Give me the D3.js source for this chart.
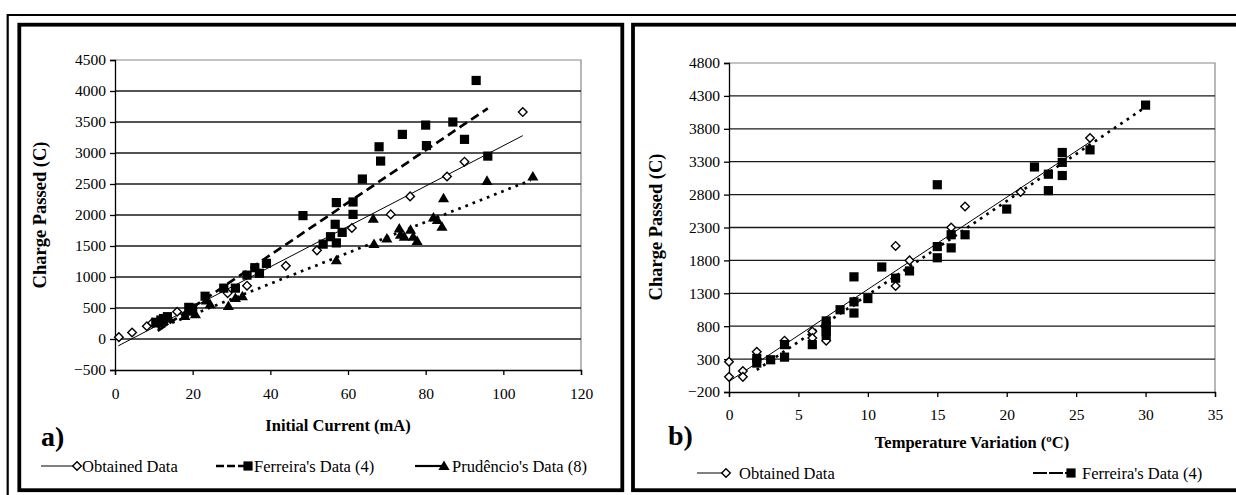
<!DOCTYPE html>
<html><head><meta charset="utf-8">
<script src="https://cdn.jsdelivr.net/npm/d3@7"></script>
<style>
body{margin:0;background:#fff}
svg text{font-family:"Liberation Serif","Times New Roman",serif;fill:#000}
</style>
</head><body><svg id="c" width="1236" height="495"></svg>
<script>
// ---------- Panel a) data ----------
const aXTicks = [0, 20, 40, 60, 80, 100, 120];
const aYTicks = [-500, 0, 500, 1000, 1500, 2000, 2500, 3000, 3500, 4000, 4500];
const aObtained = [[1,30],[4.4,105],[8.2,205],[9.6,260],[16,440],[29,740],[34,860],[44,1180],[52,1430],[61,1790],[71,2010],[76,2300],[85.5,2620],[90,2860],[105,3660]];
const aFerreira = [[10.5,270],[11.8,306],[12.5,330],[13.5,360],[19,510],[20,500],[19.5,450],[23.2,690],[28,820],[31,820],[34,1030],[36,1150],[37.2,1060],[39,1220],[48.4,1990],[53.6,1530],[55.5,1650],[56.7,1850],[57,2200],[57,1550],[58.5,1720],[61.3,2210],[61.3,2010],[63.7,2580],[68,3100],[68.4,2870],[74,3300],[80,3450],[80.2,3120],[87,3500],[90,3220],[93,4170],[96,2950]];
const aPrudencio = [[11.5,250],[12.5,290],[14,330],[18,370],[20.7,400],[23.5,620],[24.5,560],[29.2,530],[31,660],[32.8,690],[57,1270],[66.5,1940],[66.7,1530],[70,1620],[73.2,1780],[73.5,1680],[74.5,1650],[76.1,1760],[76.8,1650],[77.8,1580],[82,1960],[83,1920],[84.2,1810],[84.6,2270],[95.8,2550],[107.6,2620]];
const aTrendObtained = [[0.85,-110],[105,3280]];
const aTrendFerreira = [[11,130],[96,3720]];
const aTrendPrudencio = [[11,170],[107,2560]];
const aLabels = {x:"Initial Current (mA)", y:"Charge Passed (C)", tag:"a)"};
const aLegend = ["Obtained Data","Ferreira's Data (4)","Prudêncio's Data (8)"];

// ---------- Panel b) data ----------
const bXTicks = [0, 5, 10, 15, 20, 25, 30, 35];
const bYTicks = [-200, 300, 800, 1300, 1800, 2300, 2800, 3300, 3800, 4300, 4800];
const bObtained = [[0,260],[0,30],[1,120],[1,30],[2,410],[2,300],[4,580],[6,720],[6,620],[7,580],[9,1170],[12,2020],[12,1410],[13,1800],[16,2300],[17,2620],[21,2840],[26,3660]];
const bFerreira = [[2,310],[2,240],[3,290],[4,520],[4,330],[6,520],[7,880],[7,800],[7,720],[7,660],[8,1050],[9,1550],[9,1170],[9,1000],[10,1220],[11,1700],[12,1530],[13,1640],[15,2950],[15,2010],[15,1840],[16,1990],[16,2190],[17,2190],[20,2580],[22,3220],[23,3110],[23,2860],[24,3440],[24,3290],[24,3090],[26,3480],[30,4160]];
const bTrendObtained = [[0,-40],[26,3600]];
const bTrendFerreira = [[2,135],[30,4130]];
const bLabels = {x:"Temperature Variation (ºC)", y:"Charge Passed (C)", tag:"b)"};
const bLegend = ["Obtained Data","Ferreira's Data (4)"];

const svg = d3.select("#c");
svg.append("rect").attr("width",1236).attr("height",495).attr("fill","#fff");

// frame
svg.append("line").attr("x1",7).attr("x2",1236).attr("y1",15).attr("y2",15).attr("stroke","#000").attr("stroke-width",2.2);
svg.append("line").attr("x1",7.7).attr("x2",7.7).attr("y1",14).attr("y2",495).attr("stroke","#000").attr("stroke-width",2.2);
svg.append("rect").attr("x",19.3).attr("y",24.7).attr("width",603).attr("height",465.5).attr("fill","none").attr("stroke","#000").attr("stroke-width",3.8);
svg.append("rect").attr("x",633).attr("y",24.7).attr("width",640).attr("height",465.5).attr("fill","none").attr("stroke","#000").attr("stroke-width",3.8);

const diamond = r => `M0,${-r}L${r},0L0,${r}L${-r},0Z`;
const square = r => `M${-r},${-r}H${r}V${r}H${-r}Z`;
const tri = r => `M0,${-r*1.05}L${r*1.05},${r*0.75}L${-r*1.05},${r*0.75}Z`;

function marker(g, type, x, y){
  if(type==="d") g.append("path").attr("d",diamond(4.3)).attr("transform",`translate(${x},${y})`).attr("fill","#fff").attr("stroke","#000").attr("stroke-width",1.4);
  else if(type==="s") g.append("path").attr("d",square(4.6)).attr("transform",`translate(${x},${y})`).attr("fill","#000");
  else g.append("path").attr("d",tri(5.3)).attr("transform",`translate(${x},${y})`).attr("fill","#000");
}

function panel(cfg){
  const x = d3.scaleLinear().domain(d3.extent(cfg.xTicks)).range([cfg.x0, cfg.x1]);
  const y = d3.scaleLinear().domain(d3.extent(cfg.yTicks)).range([cfg.y1, cfg.y0]);
  const g = svg.append("g");
  g.append("path").attr("d",`M${cfg.x0},${cfg.y0}H${cfg.x1}V${cfg.y1}`).attr("fill","none").attr("stroke","#888").attr("stroke-width",1.2);
  g.selectAll(".gl").data(cfg.yTicks.slice(1,-1)).join("line")
    .attr("x1",cfg.x0).attr("x2",cfg.x1).attr("y1",d=>y(d)).attr("y2",d=>y(d))
    .attr("stroke","#1a1a1a").attr("stroke-width",1.3);
  const ya = g.append("g").attr("transform",`translate(${cfg.x0},0)`)
    .call(d3.axisLeft(y).tickValues(cfg.yTicks).tickSize(5).tickPadding(4).tickFormat(d3.format("d")));
  const xa = g.append("g").attr("transform",`translate(0,${cfg.y1})`)
    .call(d3.axisBottom(x).tickValues(cfg.xTicks).tickSize(5).tickPadding(cfg.xPad).tickFormat(d3.format("d")));
  [ya,xa].forEach(a=>{
    a.attr("font-family","Liberation Serif").attr("font-size",15.5);
    a.select(".domain").attr("stroke","#000").attr("stroke-width",1.3);
    a.selectAll(".tick line").attr("stroke","#000").attr("stroke-width",1.3);
    a.selectAll("text").attr("font-size",15.5).attr("font-family","Liberation Serif");
  });
  const line = d3.line().x(d=>x(d[0])).y(d=>y(d[1]));
  cfg.trends.forEach(t=>{
    g.append("path").attr("d",line(t.pts)).attr("fill","none").attr("stroke","#000")
      .attr("stroke-width",t.w).attr("stroke-dasharray",t.dash||null);
  });
  cfg.series.forEach(s=>{
    s.data.forEach(d=>marker(g, s.type, x(d[0]), y(d[1])));
  });
  g.append("text").attr("x",cfg.xtX).attr("y",cfg.xtY).attr("text-anchor","middle")
    .attr("font-weight","bold").attr("font-size",16.5).text(cfg.labels.x);
  g.append("text").attr("transform",`translate(${cfg.ytX},${cfg.ytY}) rotate(-90)`).attr("text-anchor","middle")
    .attr("font-weight","bold").attr("font-size",18.5).text(cfg.labels.y);
  g.append("text").attr("x",cfg.tagX).attr("y",cfg.tagY).attr("font-weight","bold").attr("font-size",28).text(cfg.labels.tag);
  cfg.legend.forEach(L=>{
    const lg = g.append("g");
    lg.append("line").attr("x1",L.lx0).attr("x2",L.lx1).attr("y1",cfg.legY).attr("y2",cfg.legY)
      .attr("stroke","#000").attr("stroke-width",L.w).attr("stroke-dasharray",L.dash||null);
    marker(lg, L.type, L.lx1+2, cfg.legY);
    lg.append("text").attr("x",L.tx).attr("y",cfg.legY+5.5).attr("font-size",16.5).text(L.text);
  });
}

panel({
  xTicks:aXTicks, yTicks:aYTicks, x0:115, x1:581, y0:60, y1:370, xPad:13,
  labels:aLabels, xtX:338, xtY:431, ytX:46, ytY:215, tagX:41, tagY:446,
  trends:[
    {pts:aTrendObtained, w:1},
    {pts:aTrendFerreira, w:2.7, dash:"9,5"},
    {pts:aTrendPrudencio, w:2.7, dash:"2.7,5"}
  ],
  series:[{data:aObtained,type:"d"},{data:aFerreira,type:"s"},{data:aPrudencio,type:"t"}],
  legY:466,
  legend:[
    {lx0:41,lx1:75,w:1,type:"d",tx:82,text:aLegend[0]},
    {lx0:216,lx1:246,w:2.4,dash:"8,3",type:"s",tx:254,text:aLegend[1]},
    {lx0:415,lx1:442,w:2.2,type:"t",tx:452,text:aLegend[2]}
  ]
});

panel({
  xTicks:bXTicks, yTicks:bYTicks, x0:729, x1:1215, y0:63, y1:392, xPad:12,
  labels:bLabels, xtX:972, xtY:448, ytX:662, ytY:227, tagX:668, tagY:445,
  trends:[
    {pts:bTrendObtained, w:1},
    {pts:bTrendFerreira, w:2.7, dash:"2.7,5"}
  ],
  series:[{data:bObtained,type:"d"},{data:bFerreira,type:"s"}],
  legY:473,
  legend:[
    {lx0:697,lx1:724,w:1,type:"d",tx:739,text:bLegend[0]},
    {lx0:1033,lx1:1069,w:2.2,dash:"14,2",type:"s",tx:1082,text:bLegend[1]}
  ]
});
</script>
</body></html>
